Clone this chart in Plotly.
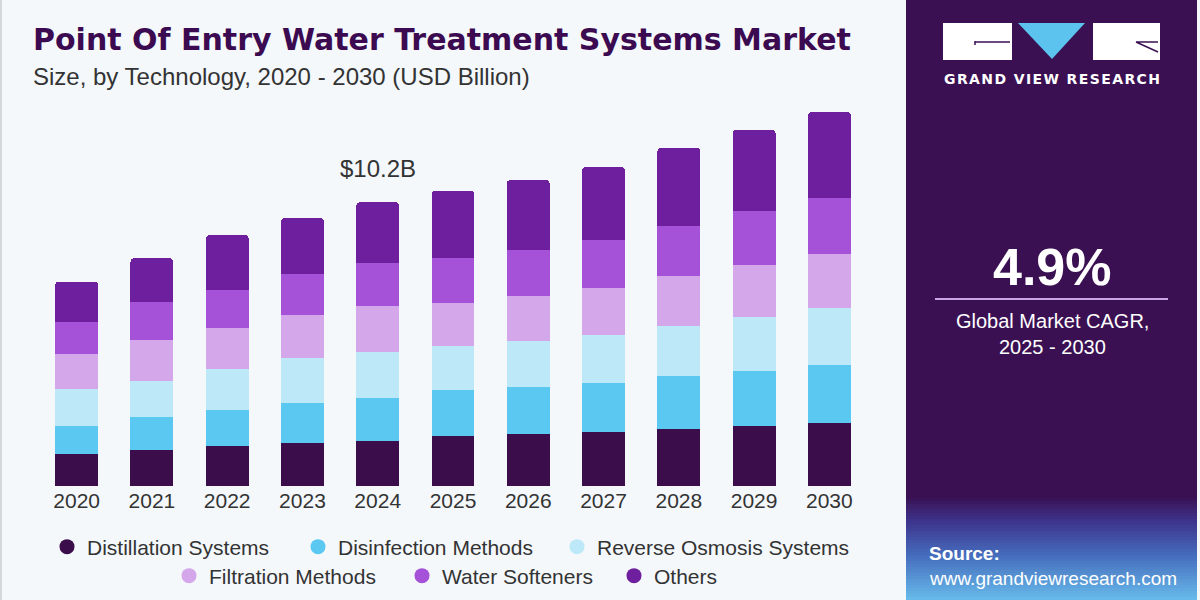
import plotly.graph_objects as go

years = ["2020", "2021", "2022", "2023", "2024", "2025", "2026", "2027", "2028", "2029", "2030"]
series_names = ["Distillation Systems", "Disinfection Methods", "Reverse Osmosis Systems",
                "Filtration Methods", "Water Softeners", "Others"]
distillation = [1.15, 1.29, 1.44, 1.54, 1.62, 1.80, 1.87, 1.94, 2.05, 2.16, 2.26]
disinfection = [1.01, 1.19, 1.29, 1.44, 1.54, 1.65, 1.69, 1.76, 1.90, 1.98, 2.08]
reverse_osmosis = [1.33, 1.29, 1.47, 1.62, 1.65, 1.58, 1.65, 1.72, 1.80, 1.94, 2.05]
filtration = [1.26, 1.47, 1.47, 1.54, 1.65, 1.54, 1.62, 1.69, 1.80, 1.87, 1.94]
softeners = [1.15, 1.36, 1.36, 1.47, 1.54, 1.62, 1.65, 1.72, 1.80, 1.94, 2.01]
others = [1.44, 1.58, 1.98, 2.01, 2.19, 2.41, 2.51, 2.62, 2.80, 2.91, 3.09]
colors = ["#3b0e4b", "#5bc8f1", "#bde8f8", "#d4a7ea", "#a652d8", "#6e1f9e"]
highlight_year = "2024"
highlight_label = "$10.2B"

all_series = [distillation, disinfection, reverse_osmosis, filtration, softeners, others]

# plot-area geometry in pixels
L, R, T, B = 39, 867, 100, 486
W, H = 1200, 600


def px(x):
    return (x - L) / (R - L)


def py(y):
    return (B - y) / (B - T)


fig = go.Figure()
for name, vals, col in zip(series_names, all_series, colors):
    fig.add_trace(go.Bar(x=years, y=vals, name=name, marker=dict(color=col, line=dict(width=0)),
                         showlegend=False, hoverinfo="x+y+name"))

# legend entries with circle markers; each entry in its own legend box (two centred rows)
legend_pos = [(67, 547), (318, 547), (577, 547), (189, 576), (422, 576), (634, 576)]
legend_font = dict(family="Liberation Sans", size=21, color="#333333")
legend_layout = {}
for i, (name, col) in enumerate(zip(series_names, colors)):
    key = "legend" if i == 0 else "legend%d" % (i + 1)
    fig.add_trace(go.Scatter(x=[years[0]], y=[None], mode="markers", name=name,
                             marker=dict(color=col, size=15, symbol="circle"),
                             legend=key, showlegend=True))
    dx, dy = legend_pos[i]
    legend_layout[key] = dict(orientation="h", x=px(dx - 20), xanchor="left", y=py(dy), yanchor="middle",
                              font=legend_font, bgcolor="rgba(0,0,0,0)", itemsizing="trace")

totals = [sum(v) for v in zip(*all_series)]
hi = years.index(highlight_year)
fig.add_annotation(x=hi, y=totals[hi], text=highlight_label, showarrow=False, xref="x", yref="y",
                   yanchor="bottom", yshift=18, font=dict(family="Liberation Sans", size=24, color="#333333"))

shapes = []
# left thin border
shapes.append(dict(type="rect", xref="paper", yref="paper", x0=px(0), x1=px(2), y0=py(600), y1=py(0),
                   fillcolor="#d3d6da", line=dict(width=0), layer="below"))
# right panel
panel_x0, panel_x1 = px(906), px(1197)
shapes.append(dict(type="rect", xref="paper", yref="paper", x0=panel_x0, x1=panel_x1, y0=py(600), y1=py(0),
                   fillcolor="#3a1053", line=dict(width=0), layer="below"))


def lerp(c1, c2, t):
    return tuple(int(round(a + (b - a) * t)) for a, b in zip(c1, c2))


stops = [(495, (58, 16, 83)), (520, (61, 52, 140)), (555, (70, 110, 190)), (600, (105, 190, 236))]
band = 3
for y in range(495, 600, band):
    for (ya, ca), (yb, cb) in zip(stops[:-1], stops[1:]):
        if ya <= y < yb:
            c = lerp(ca, cb, (y - ya) / (yb - ya))
            break
    shapes.append(dict(type="rect", xref="paper", yref="paper", x0=panel_x0, x1=panel_x1,
                       y0=py(min(y + band, 600)), y1=py(y),
                       fillcolor="rgb(%d,%d,%d)" % c, line=dict(width=0), layer="below"))

# logo
shapes.append(dict(type="rect", xref="paper", yref="paper", x0=px(943), x1=px(1012), y0=py(60), y1=py(23),
                   fillcolor="white", line=dict(width=0)))
shapes.append(dict(type="rect", xref="paper", yref="paper", x0=px(1093), x1=px(1160), y0=py(60), y1=py(23),
                   fillcolor="white", line=dict(width=0)))
shapes.append(dict(type="path", xref="paper", yref="paper",
                   path="M %f %f L %f %f L %f %f Z" % (px(1018), py(23), px(1085), py(23), px(1052), py(59)),
                   fillcolor="#5bc3ee", line=dict(width=0)))
shapes.append(dict(type="path", xref="paper", yref="paper",
                   path="M %f %f L %f %f M %f %f L %f %f" % (px(975), py(45), px(975), py(41),
                                                           px(975), py(42), px(1010), py(42)),
                   line=dict(color="#3a1053", width=1.5)))
shapes.append(dict(type="path", xref="paper", yref="paper",
                   path="M %f %f L %f %f M %f %f L %f %f" % (px(1136), py(42), px(1158), py(52),
                                                           px(1136), py(42), px(1158), py(42)),
                   line=dict(color="#3a1053", width=1.5)))
# CAGR separator
shapes.append(dict(type="line", xref="paper", yref="paper", x0=px(935), x1=px(1168), y0=py(299), y1=py(299),
                   line=dict(color="#c9a6e2", width=2)))

brand = "\u200a".join("GRAND VIEW RESEARCH")
anns = [
    dict(text="<b>Point Of Entry Water Treatment Systems Market</b>", x=px(31), y=py(40), xanchor="left",
         yanchor="middle", font=dict(family="DejaVu Sans", size=30, color="#3b0a50")),
    dict(text="Size, by Technology, 2020 - 2030 (USD Billion)", x=px(31), y=py(76), xanchor="left",
         yanchor="middle", font=dict(family="Liberation Sans", size=24, color="#333333")),
    dict(text="<b>%s</b>" % brand, x=px(1052), y=py(79), xanchor="center", yanchor="middle",
         font=dict(family="DejaVu Sans", size=14, color="white")),
    dict(text="<b>4.9%</b>", x=px(1052), y=py(267), xanchor="center", yanchor="middle",
         font=dict(family="Liberation Sans", size=52, color="white")),
    dict(text="Global Market CAGR,", x=px(1052), y=py(321), xanchor="center", yanchor="middle",
         font=dict(family="Liberation Sans", size=20, color="white")),
    dict(text="2025 - 2030", x=px(1052), y=py(347), xanchor="center", yanchor="middle",
         font=dict(family="Liberation Sans", size=20, color="white")),
    dict(text="<b>Source:</b>", x=px(927), y=py(553), xanchor="left", yanchor="middle",
         font=dict(family="Liberation Sans", size=19, color="white")),
    dict(text="www.grandviewresearch.com", x=px(927), y=py(578), xanchor="left", yanchor="middle",
         font=dict(family="Liberation Sans", size=19, color="white")),
]
for a in anns:
    a.update(xref="paper", yref="paper", showarrow=False)
    fig.add_annotation(**a)

fig.update_layout(
    width=W, height=H,
    margin=dict(l=L, r=W - R, t=T, b=H - B, autoexpand=False),
    paper_bgcolor="#f4f8fb", plot_bgcolor="#f4f8fb",
    barmode="stack", bargap=0.43, barcornerradius=4,
    shapes=shapes,
    xaxis=dict(type="category", categoryorder="array", categoryarray=years, range=[-0.5, len(years) - 0.5],
               showgrid=False, showline=False, ticks="", zeroline=False,
               tickfont=dict(family="Liberation Sans", size=21, color="#333333")),
    yaxis=dict(range=[0, (B - T) / 27.84], showgrid=False, showticklabels=False, zeroline=False, showline=False),
    font=dict(family="Liberation Sans"),
    **legend_layout,
)

fig.write_html("out.html")
